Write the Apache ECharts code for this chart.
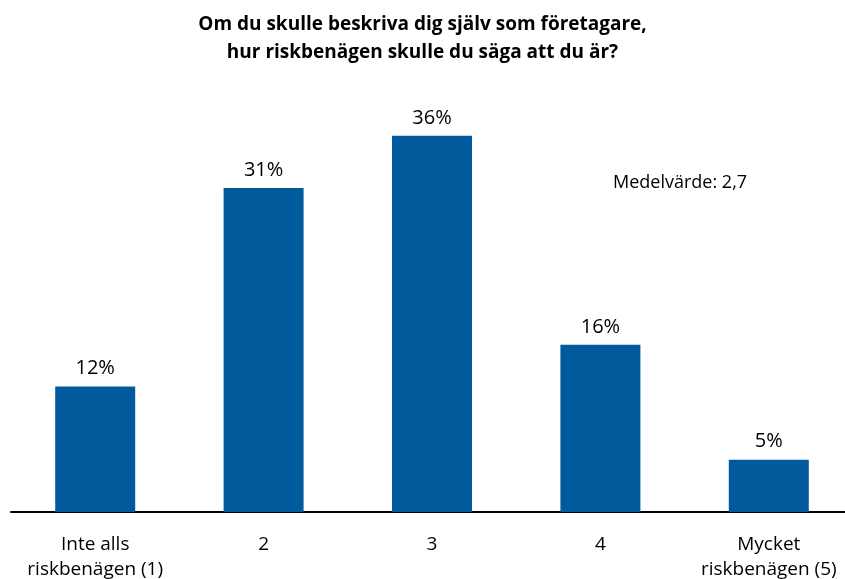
<!DOCTYPE html>
<html>
<head>
<meta charset="utf-8">
<script src="https://cdn.jsdelivr.net/npm/echarts@6/dist/echarts.min.js"></script>
<style>
  html, body { margin: 0; padding: 0; background: #fff; }
  #chart { width: 845px; height: 579px; }
</style>
</head>
<body>
<div id="chart"></div>
<script>
// svarskategorier och andel (%)
var categories = ['Inte alls\nriskbenägen (1)', '2', '3', '4', 'Mycket\nriskbenägen (5)']
var shares = [12, 31, 36, 16, 5]
var meanText = 'Medelvärde: 2,7'

var font = '"Open Sans", "Noto Sans", sans-serif'

var myChart = echarts.init(document.getElementById('chart'))
var option = {
    animation: false,
    title: {
        text: 'Om du skulle beskriva dig själv som företagare,\nhur riskbenägen skulle du säga att du är?',
        left: 'center',
        top: 6,
        textStyle: {
            fontFamily: font,
            fontSize: 19,
            fontWeight: 'bold',
            color: '#000',
            lineHeight: 28
        }
    },
    grid: {
        left: 11,
        top: 94,
        width: 842,
        height: 418,
        outerBoundsMode: 'none'
    },
    graphic: [{
        type: 'text',
        left: 613,
        top: 174,
        style: {
            text: meanText,
            font: '18px ' + font,
            fill: '#000'
        }
    }],
    xAxis: {
        type: 'category',
        data: categories,
        axisLine: { lineStyle: { color: '#000', width: 2 } },
        axisTick: { show: false },
        axisLabel: {
            color: '#000',
            fontFamily: font,
            fontSize: 19,
            lineHeight: 25,
            margin: 20,
            interval: 0
        }
    },
    yAxis: {
        type: 'value',
        min: 0,
        max: 40,
        show: false,
        splitLine: { show: false }
    },
    series: [{
        type: 'bar',
        data: shares,
        barWidth: 80,
        itemStyle: { color: '#005a9c' },
        label: {
            show: true,
            position: 'top',
            distance: 8,
            formatter: '{c}%',
            color: '#000',
            fontFamily: font,
            fontSize: 20
        }
    }]
}
myChart.setOption(option)
</script>
</body>
</html>
